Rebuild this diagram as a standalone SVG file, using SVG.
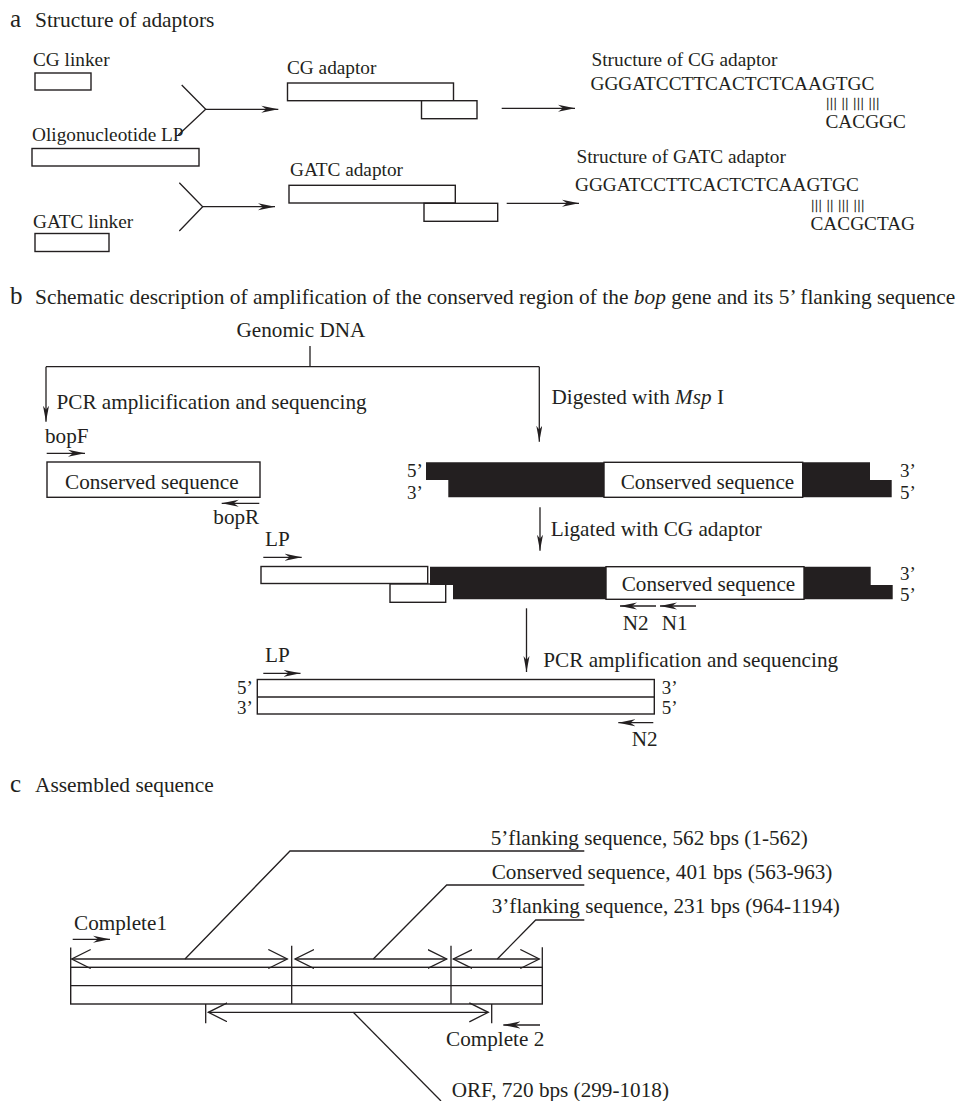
<svg xmlns="http://www.w3.org/2000/svg" width="963" height="1101" viewBox="0 0 963 1101">
<style>
.t{font-family:"Liberation Serif","Times New Roman",serif;fill:#231f20}
.h{font-size:21.4px}
.l{font-size:19.3px}
.m{font-size:21.2px}
.e{font-size:19px}
.k{font-size:25px}
.bar{font-size:12px;letter-spacing:1.3px;stroke:#231f20;stroke-width:0.35}
.ln{stroke:#231f20;stroke-width:1.3;fill:none}
.box{fill:#fff;stroke:#231f20;stroke-width:1.4}
.blk{fill:#231f20;stroke:none}
.arr{stroke:#231f20;stroke-width:1.3;fill:none;marker-end:url(#ah)}
.darr{stroke:#231f20;stroke-width:1.3;fill:none;marker-end:url(#ahn)}
.dbl{stroke:#231f20;stroke-width:1.3;fill:none;marker-start:url(#ov);marker-end:url(#ov)}
</style>
<defs>
<marker id="ah" markerUnits="userSpaceOnUse" markerWidth="20" markerHeight="10" refX="17" refY="4" orient="auto"><path d="M0,0.5 L17,4 L0,7.5 L5,4 Z" fill="#231f20"/></marker>
<marker id="ahn" markerUnits="userSpaceOnUse" markerWidth="18" markerHeight="8" refX="16" refY="3" orient="auto"><path d="M0,0 L16,3 L0,6 L4,3 Z" fill="#231f20"/></marker>
<marker id="ov" markerUnits="userSpaceOnUse" markerWidth="22" markerHeight="22" refX="19" refY="10" orient="auto-start-reverse"><path d="M0,0.5 L19,10 L0,19.5" fill="none" stroke="#231f20" stroke-width="1.3"/></marker>
</defs>

<!-- Section headers -->
<g id="hdr-a"><text class="t k" x="10" y="27">a</text><text class="t h" x="35" y="27">Structure of adaptors</text></g>
<g id="hdr-b"><text class="t k" x="10" y="304">b</text><text class="t h" x="35" y="304">Schematic description of amplification of the conserved region of the <tspan font-style="italic">bop</tspan> gene and its 5’ flanking sequence</text></g>
<g id="hdr-c"><text class="t k" x="10" y="792">c</text><text class="t h" x="35" y="792">Assembled sequence</text></g>

<!-- Section a nodes -->
<g id="cg-linker"><text class="t l" x="33" y="66">CG linker</text><rect class="box" x="35" y="73" width="56" height="17"/></g>
<g id="oligo-lp"><text class="t l" x="32" y="141">Oligonucleotide LP</text><rect class="box" x="32" y="148.5" width="167" height="17.5"/></g>
<g id="gatc-linker"><text class="t l" x="33" y="228">GATC linker</text><rect class="box" x="35" y="233.5" width="74" height="18"/></g>
<g id="cg-adaptor"><text class="t l" x="287" y="74">CG adaptor</text><rect class="box" x="287.5" y="83" width="166" height="17.7"/><rect class="box" x="421.5" y="100.7" width="55.5" height="18"/></g>
<g id="gatc-adaptor"><text class="t l" x="290" y="176">GATC adaptor</text><rect class="box" x="289" y="185.3" width="166.3" height="17.7"/><rect class="box" x="424" y="203.3" width="73.7" height="18"/></g>
<g id="cg-structure">
<text class="t l" x="591.5" y="66">Structure of CG adaptor</text>
<text class="t l" x="590.5" y="90">GGGATCCTTCACTCTCAAGTGC</text>
<text class="t bar" x="826.5" y="107">||| || ||| |||</text>
<text class="t l" x="825.5" y="128">CACGGC</text>
</g>
<g id="gatc-structure">
<text class="t l" x="576.5" y="163">Structure of GATC adaptor</text>
<text class="t l" x="575" y="191">GGGATCCTTCACTCTCAAGTGC</text>
<text class="t bar" x="811.5" y="209">||| || ||| |||</text>
<text class="t l" x="810.5" y="230">CACGCTAG</text>
</g>

<!-- Section b nodes -->
<g id="genomic-dna"><text class="t m" x="236.5" y="337">Genomic DNA</text></g>
<g id="pcr1-label"><text class="t m" x="56.5" y="409">PCR amplicification and sequencing</text></g>
<g id="digest-label"><text class="t m" x="551.5" y="404">Digested with <tspan font-style="italic">Msp</tspan> I</text></g>
<g id="conserved-left">
<text class="t m" x="45" y="443">bopF</text>
<path class="arr" d="M46.7,453.3 H85"/>
<rect class="box" x="47" y="462" width="213" height="35.3"/>
<text class="t m" x="65" y="488.5">Conserved sequence</text>
<path class="arr" d="M259.3,503.3 H221.7"/>
<text class="t m" x="213.3" y="523.5">bopR</text>
</g>
<g id="digested-fragment">
<text class="t e" x="407" y="477">5’</text>
<text class="t e" x="407" y="499">3’</text>
<polygon class="blk" points="426,462.3 870,462.3 870,480 891.7,480 891.7,497.3 448.3,497.3 448.3,480 426,480"/>
<rect class="box" x="604" y="462.3" width="198.7" height="35"/>
<text class="t m" x="620.7" y="489.3">Conserved sequence</text>
<text class="t e" x="900" y="477">3’</text>
<text class="t e" x="900" y="499">5’</text>
</g>
<g id="ligate-label"><text class="t m" x="550.7" y="536">Ligated with CG adaptor</text></g>
<g id="ligated-fragment">
<text class="t m" x="265" y="546">LP</text>
<path class="arr" d="M263.3,557.3 H301.7"/>
<rect class="box" x="261" y="566.5" width="166.7" height="17"/>
<rect class="box" x="390" y="584" width="55.7" height="18.3"/>
<polygon class="blk" points="430,566.7 870.7,566.7 870.7,585 892.7,585 892.7,599.3 453,599.3 453,585 430,585"/>
<rect class="box" x="606" y="566.7" width="198" height="32.6"/>
<text class="t m" x="621.7" y="591">Conserved sequence</text>
<text class="t e" x="900" y="580">3’</text>
<text class="t e" x="900" y="601">5’</text>
<path class="arr" d="M656,606 H620"/>
<path class="arr" d="M696,606 H660"/>
<text class="t m" x="622.7" y="630">N2</text>
<text class="t m" x="661.7" y="630">N1</text>
</g>
<g id="pcr2-label"><text class="t m" x="543.3" y="667">PCR amplification and sequencing</text></g>
<g id="final-product">
<text class="t m" x="265" y="662">LP</text>
<path class="arr" d="M263.3,673.3 H300.5"/>
<rect class="box" x="257.3" y="679.5" width="397" height="34.5"/>
<path class="ln" d="M257.3,697 H654.3"/>
<text class="t e" x="237" y="694">5’</text>
<text class="t e" x="237" y="714">3’</text>
<text class="t e" x="661.7" y="694">3’</text>
<text class="t e" x="661.7" y="714">5’</text>
<path class="arr" d="M653.3,722.7 H618.3"/>
<text class="t m" x="631.7" y="746">N2</text>
</g>

<!-- Section c nodes -->
<g id="assembled-bar">
<rect class="box" x="70.7" y="967.3" width="471.6" height="36.7"/>
<path class="ln" d="M70.7,985.7 H542.3 M291.7,945.7 V1004 M451,945.7 V1004 M70.7,947.5 V967.3 M542.3,947.3 V967.3"/>
</g>
<g id="complete1"><text class="t m" x="74" y="930">Complete1</text><path class="arr" d="M72.7,939.3 H110"/></g>
<g id="complete2"><path class="arr" d="M540,1025 H503.3"/><text class="t m" x="446" y="1046">Complete 2</text></g>
<g id="label-5flank"><text class="t m" x="490.7" y="845">5’flanking sequence, 562 bps (1-562)</text></g>
<g id="label-conserved"><text class="t m" x="491.7" y="879.3">Conserved sequence, 401 bps (563-963)</text></g>
<g id="label-3flank"><text class="t m" x="491.7" y="913.3">3’flanking sequence, 231 bps (964-1194)</text></g>
<g id="label-orf"><text class="t m" x="451.7" y="1097">ORF, 720 bps (299-1018)</text></g>

<!-- Connectors -->
<g id="connectors">
<path class="ln" d="M181.7,85 L205.7,109.3 L178.3,135"/>
<path class="arr" d="M205.7,109.3 H278.3"/>
<path class="ln" d="M179.3,182.7 L202.7,206.7 L179.3,231"/>
<path class="arr" d="M202.7,206.7 H275"/>
<path class="arr" d="M501.7,108.3 H575"/>
<path class="arr" d="M506.7,203.3 H579"/>
<path class="ln" d="M310,346 V366.7 M46,366.7 H539.3"/>
<path class="darr" d="M46,366.7 V421.7"/>
<path class="darr" d="M539.3,366.7 V441.7"/>
<path class="darr" d="M540,507.3 V550.7"/>
<path class="darr" d="M526.5,608.3 V672"/>
<path class="dbl" d="M71.7,959 H287.3"/>
<path class="dbl" d="M295,959 H446.7"/>
<path class="dbl" d="M453.3,959 H539.3"/>
<path class="dbl" d="M208.3,1012.3 H488.3"/>
<path class="ln" d="M205.7,1004 V1023.3 M491.7,1004 V1023.3"/>
<path class="ln" d="M185,959 L290,851 H584.3"/>
<path class="ln" d="M373.3,959 L446.7,885 H584.3"/>
<path class="ln" d="M497.3,959 L535.7,920 H584.3"/>
<path class="ln" d="M353.3,1012.3 L441,1101"/>
</g>
</svg>
